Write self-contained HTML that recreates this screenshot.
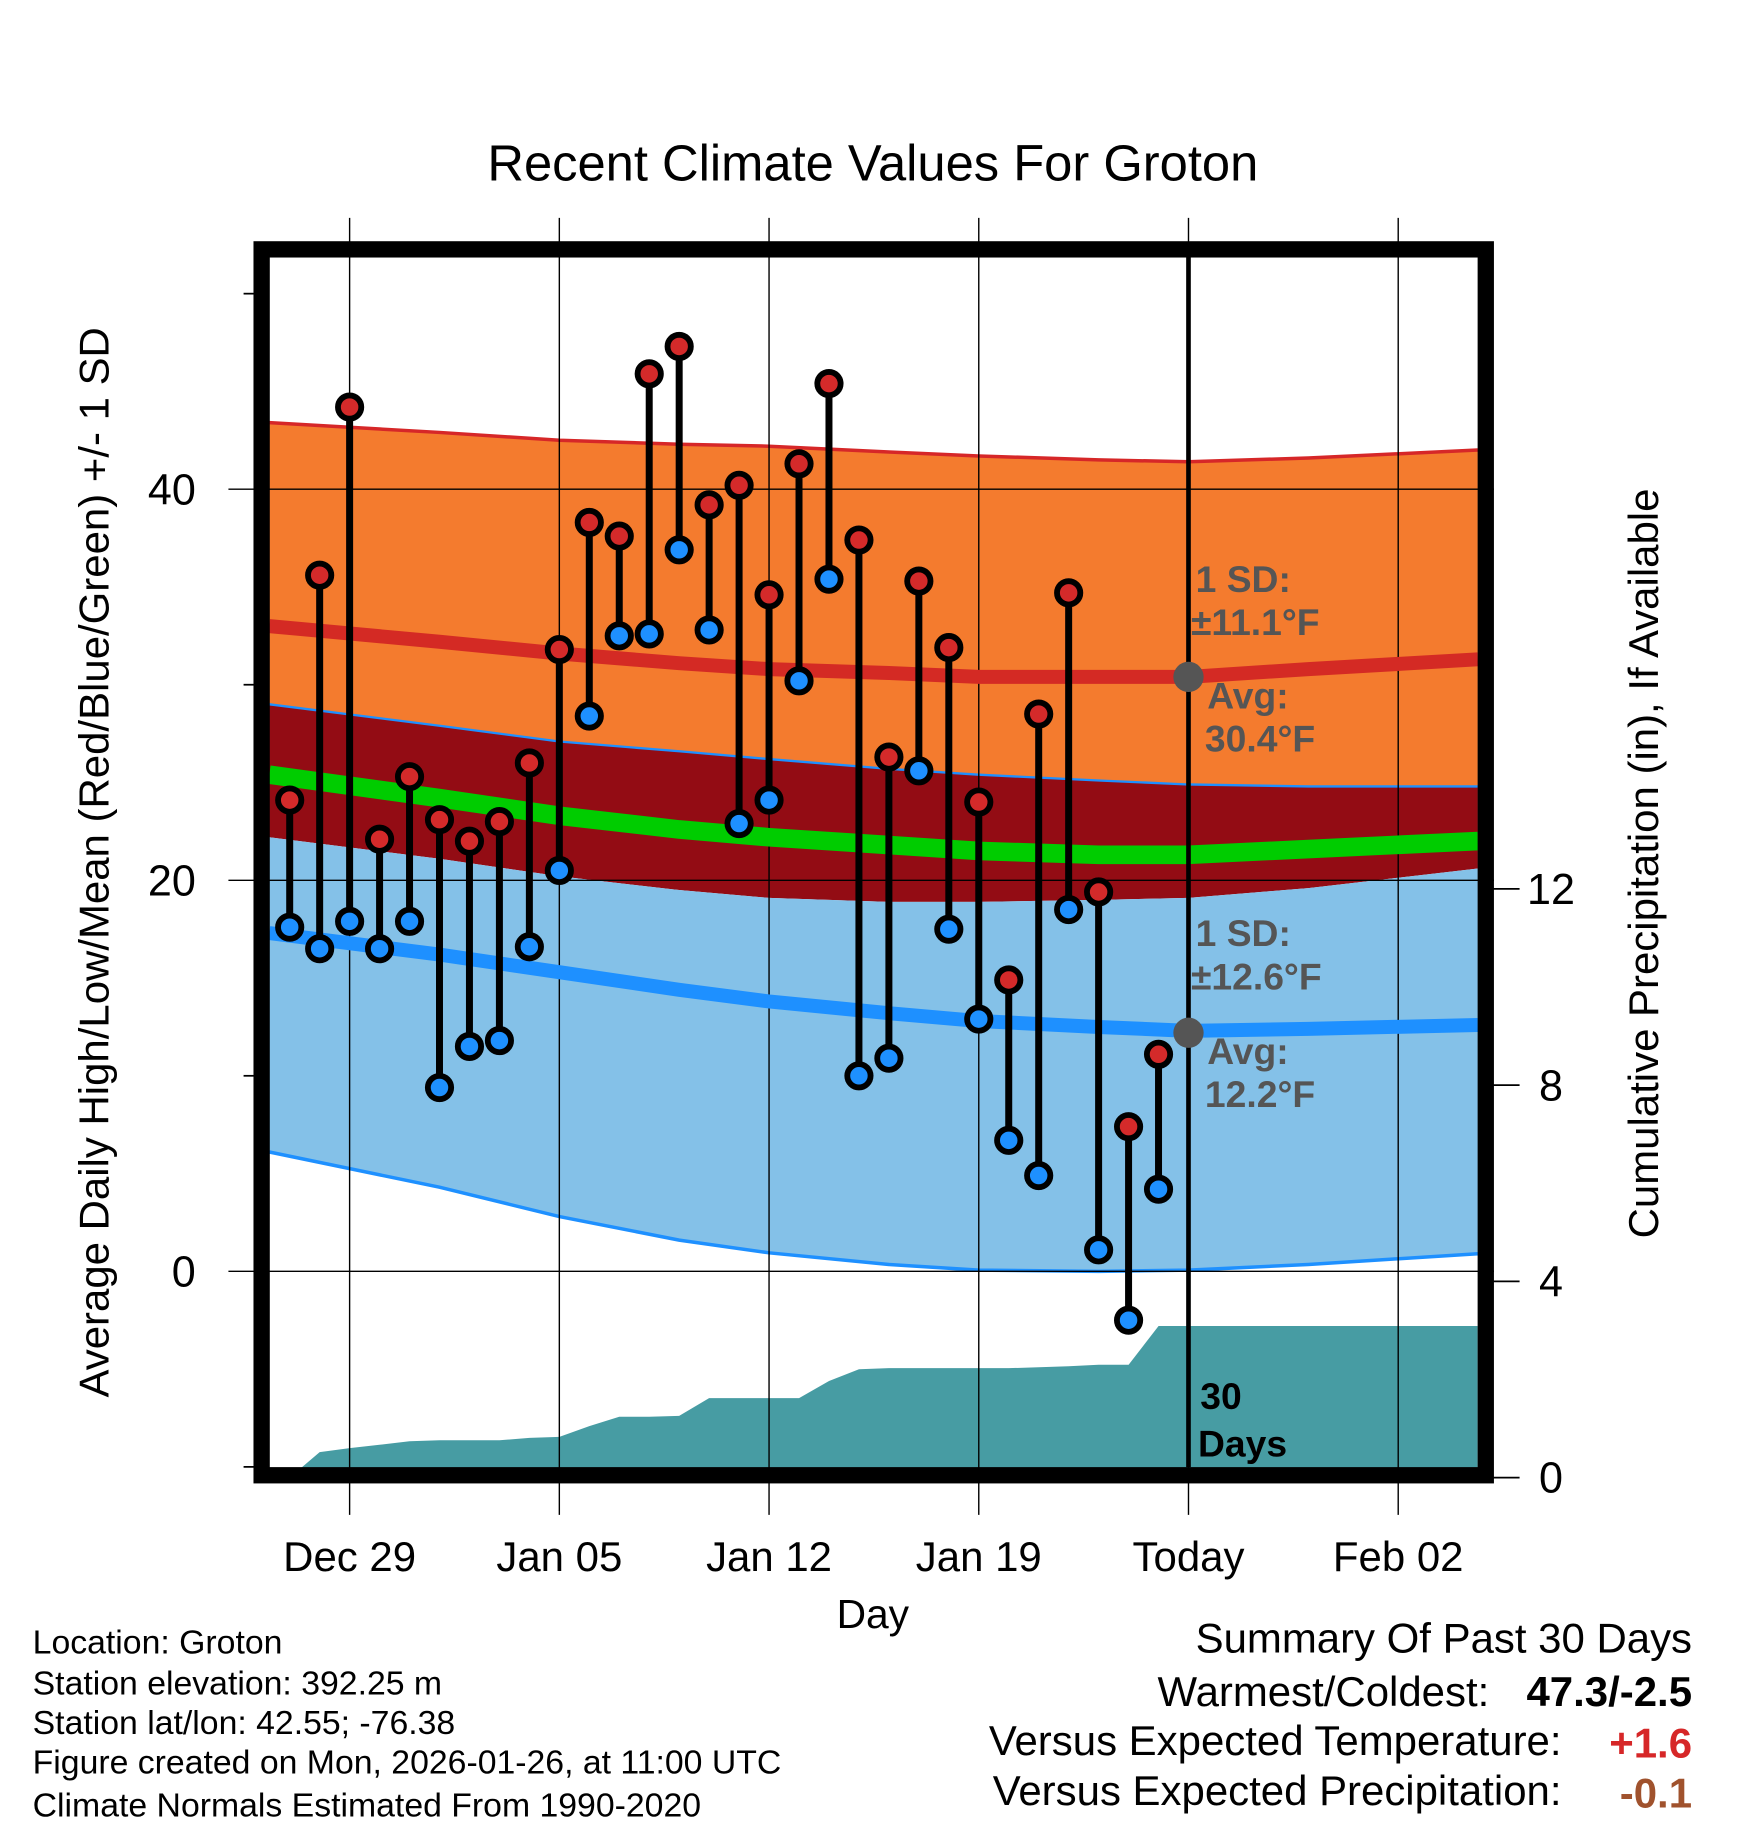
<!DOCTYPE html>
<html><head><meta charset="utf-8"><style>
html,body{margin:0;padding:0;background:#fff}
svg{display:block;font-family:"Liberation Sans",Arial,sans-serif}
</style></head><body>
<svg id="chart" width="1748" height="1828" viewBox="0 0 1500 1568.7" xmlns="http://www.w3.org/2000/svg">
<g id="bands"></g>
<g id="precip"></g>
<g id="grid"></g>
<g id="lines"></g>
<g id="marks"></g>
<g id="annot"></g>
<rect x="224.5" y="214" width="1050.5" height="1052" fill="none" stroke="#000" stroke-width="14"/>
<g id="axes"></g>
<text x="749" y="155" font-size="43.5" text-anchor="middle">Recent Climate Values For Groton</text>
<text x="749" y="1397" font-size="35" text-anchor="middle">Day</text>
<text transform="translate(93,740) rotate(-90)" font-size="36" text-anchor="middle">Average Daily High/Low/Mean (Red/Blue/Green) +/- 1 SD</text>
<text transform="translate(1423,741) rotate(-90)" font-size="36" text-anchor="middle">Cumulative Precipitation (in), If Available</text>
<g font-size="29">
<text x="28" y="1419">Location: Groton</text>
<text x="28" y="1454">Station elevation: 392.25 m</text>
<text x="28" y="1488">Station lat/lon: 42.55; -76.38</text>
<text x="28" y="1522">Figure created on Mon, 2026-01-26, at 11:00 UTC</text>
<text x="28" y="1559">Climate Normals Estimated From 1990-2020</text>
</g>
<g font-size="36">
<text x="1452" y="1418" text-anchor="end">Summary Of Past 30 Days</text>
<text x="1278" y="1464" text-anchor="end">Warmest/Coldest:</text>
<text x="1452" y="1464" text-anchor="end" font-weight="bold">47.3/-2.5</text>
<text x="1340" y="1506" text-anchor="end">Versus Expected Temperature:</text>
<text x="1452" y="1508" text-anchor="end" font-weight="bold" fill="#d62728">+1.6</text>
<text x="1340" y="1549" text-anchor="end">Versus Expected Precipitation:</text>
<text x="1452" y="1551" text-anchor="end" font-weight="bold" fill="#a0522d">-0.1</text>
</g>
</svg>
<script>
// ---- data ----
const normDays = [-2.68, 3, 7, 11, 14, 18, 21, 25, 28, 32, 37.66];
const hiPlus  = [43.4, 42.9, 42.5, 42.3, 42.2, 41.9, 41.7, 41.5, 41.4, 41.6, 42.0];
const hiAvg   = [33.0, 32.2, 31.6, 31.1, 30.8, 30.6, 30.4, 30.4, 30.4, 30.8, 31.3];
const hiMinus = [29.0, 27.9, 27.1, 26.6, 26.2, 25.7, 25.4, 25.1, 24.9, 24.8, 24.8];
const meanAvg = [25.4, 24.2, 23.3, 22.6, 22.2, 21.8, 21.5, 21.3, 21.3, 21.6, 22.0];
const loPlus  = [22.2, 21.1, 20.2, 19.5, 19.1, 18.9, 18.9, 19.0, 19.1, 19.6, 20.6];
const loAvg   = [17.3, 16.2, 15.3, 14.4, 13.8, 13.2, 12.8, 12.5, 12.3, 12.4, 12.6];
const loMinus = [6.1, 4.3, 2.8, 1.6, 0.95, 0.35, 0.06, 0.0, 0.06, 0.35, 0.9];
const obsDays = [-2,-1,0,1,2,3,4,5,6,7,8,9,10,11,12,13,14,15,16,17,18,19,20,21,22,23,24,25,26,27];
const highs = [24.1,35.6,44.2,22.1,25.3,23.1,22.0,23.0,26.0,31.8,38.3,37.6,45.9,47.3,39.2,40.2,34.6,41.3,45.4,37.4,26.3,35.3,31.9,24.0,14.9,28.5,34.7,19.4,7.4,11.1];
const lows  = [17.6,16.5,17.9,16.5,17.9,9.4,11.5,11.8,16.6,20.5,28.4,32.5,32.6,36.9,32.8,22.9,24.1,30.2,35.4,10.0,10.9,25.6,17.5,12.9,6.7,4.9,18.5,1.1,-2.5,4.2];
const precip = [0,0.52,0.6,0.67,0.74,0.76,0.76,0.76,0.81,0.83,1.05,1.24,1.24,1.26,1.62,1.62,1.62,1.62,1.97,2.21,2.23,2.23,2.23,2.23,2.23,2.25,2.27,2.3,2.3,3.09];
const xTickDays = [0,7,14,21,28,35];
const xTickLabels = ["Dec 29","Jan 05","Jan 12","Jan 19","Today","Feb 02"];
const yTicks = [0,20,40];
const yMinor = [-10,10,30,50];
const y2Ticks = [0,4,8,12];
const todayDay = 28;
const todayHi = 30.4, todayLo = 12.2;

// ---- scales ----
const X = d => 300 + d*25.71;
const Y = v => 1091 - v*16.78;
const Y2 = p => 1268 - p*42.1;
const NS = "http://www.w3.org/2000/svg";
function mk(tag, parent, attrs){const e=document.createElementNS(NS,tag);for(const k in attrs)e.setAttribute(k,attrs[k]);document.getElementById(parent).appendChild(e);return e;}
function pts(days, vals){return days.map((d,i)=>X(d).toFixed(1)+","+Y(vals[i]).toFixed(1));}
function band(top, bot){return "M"+pts(normDays,top).join("L")+"L"+pts(normDays,bot).reverse().join("L")+"Z";}

let e;
e=mk("path","bands",{d:band(hiPlus,hiMinus),fill:"#f47b2e"});


e=mk("path","bands",{d:band(hiMinus,loPlus),fill:"#930c14"});


e=mk("path","bands",{d:band(loPlus,loMinus),fill:"#84c1e8"});


e=mk("polyline","bands",{points:pts(normDays,hiPlus).join(" "),fill:"none",stroke:"#d62728","stroke-width":3});


e=mk("polyline","bands",{points:pts(normDays,hiMinus).join(" "),fill:"none",stroke:"#1e90ff","stroke-width":2});


e=mk("polyline","bands",{points:pts(normDays,loMinus).join(" "),fill:"none",stroke:"#1e90ff","stroke-width":3});



let pd="M"+X(obsDays[0])+","+Y2(0);
obsDays.forEach((d,i)=>{pd+="L"+X(d).toFixed(1)+","+Y2(precip[i]).toFixed(1);});
pd+="L1268,"+Y2(precip[precip.length-1]).toFixed(1)+"L1268,1268Z";
e=mk("path","precip",{d:pd,fill:"#479ca3"});



xTickDays.forEach(d=>{
  e=mk("line","grid",{x1:X(d),x2:X(d),y1:187,y2:1300,stroke:"#000","stroke-width":1.2});
  
  
});
yTicks.forEach(v=>{
  e=mk("line","grid",{x1:196,x2:1282,y1:Y(v),y2:Y(v),stroke:"#000","stroke-width":1.2});
  
  
});

e=mk("polyline","lines",{points:pts(normDays,meanAvg).join(" "),fill:"none",stroke:"#00cc00","stroke-width":16});


e=mk("polyline","lines",{points:pts(normDays,hiAvg).join(" "),fill:"none",stroke:"#d42a24","stroke-width":12});


e=mk("polyline","lines",{points:pts(normDays,loAvg).join(" "),fill:"none",stroke:"#1e90ff","stroke-width":12});



e=mk("line","lines",{x1:X(todayDay),x2:X(todayDay),y1:221,y2:1259,stroke:"#000","stroke-width":4});



obsDays.forEach((d,i)=>{
  e=mk("line","marks",{x1:X(d),x2:X(d),y1:Y(highs[i]),y2:Y(lows[i]),stroke:"#000","stroke-width":6});
  
  
  e=mk("circle","marks",{cx:X(d),cy:Y(highs[i]),r:10,fill:"#d42a2a",stroke:"#000","stroke-width":5});
  
  
  e=mk("circle","marks",{cx:X(d),cy:Y(lows[i]),r:10,fill:"#1e90ff",stroke:"#000","stroke-width":5});
  
  
});

e=mk("circle","annot",{cx:X(todayDay),cy:Y(todayHi),r:13,fill:"#555"});


e=mk("circle","annot",{cx:X(todayDay),cy:Y(todayLo),r:13,fill:"#555"});


const ann=[["1 SD:",1026,508,"#555"],["±11.1°F",1022,545,"#555"],["Avg:",1036,608,"#555"],["30.4°F",1034,645,"#555"],
["1 SD:",1026,812,"#555"],["±12.6°F",1022,849,"#555"],["Avg:",1036,913,"#555"],["12.2°F",1034,950,"#555"],
["30",1030,1209,"#000"],["Days",1028,1250,"#000"]];
ann.forEach(a=>{
  e=mk("text","annot",{x:a[1],y:a[2],"font-size":32,"font-weight":"bold",fill:a[3]});
  e.textContent=a[0];
  
  
});

xTickDays.forEach((d,i)=>{
  e=mk("text","axes",{x:X(d),y:1348,"font-size":36,"text-anchor":"middle"});
  e.textContent=xTickLabels[i];
  
  
});
yTicks.forEach(v=>{
  e=mk("text","axes",{x:168,y:Y(v)+13,"font-size":37,"text-anchor":"end"});
  e.textContent=String(v);
  
  
});
yMinor.forEach(v=>{
  e=mk("line","axes",{x1:209,x2:220,y1:Y(v),y2:Y(v),stroke:"#000","stroke-width":1.5});
  
  
});
y2Ticks.forEach(p=>{
  e=mk("line","axes",{x1:1280,x2:1304,y1:Y2(p),y2:Y2(p),stroke:"#000","stroke-width":1.5});
  
  
  e=mk("text","axes",{x:1331,y:Y2(p)+13,"font-size":37,"text-anchor":"middle"});
  e.textContent=String(p);
  
  
});
</script>
</body></html>
